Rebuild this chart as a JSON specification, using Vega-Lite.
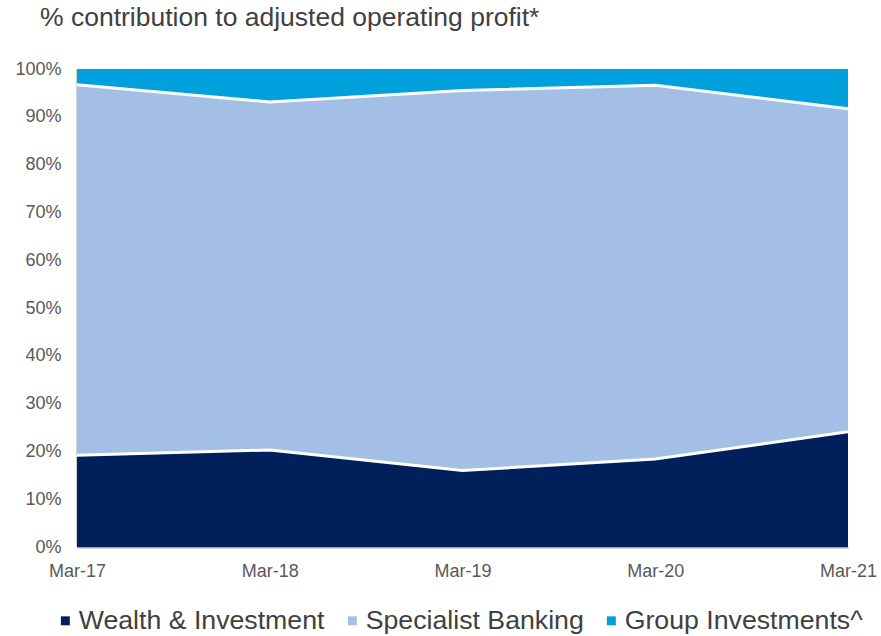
{
  "$schema": "https://vega.github.io/schema/vega-lite/v6.json",
  "autosize": "none",
  "width": 771,
  "height": 478,
  "padding": {"left": 77, "top": 69, "right": 33, "bottom": 89},
  "background": "white",
  "config": {
    "font": "Liberation Sans",
    "view": {"stroke": null}
  },
  "title": {
    "text": "% contribution to adjusted operating profit*",
    "anchor": "start",
    "frame": "group",
    "dx": -37,
    "offset": 29,
    "fontSize": 26.5,
    "fontWeight": "normal",
    "color": "#404040"
  },
  "data": {
    "values": [
      {"date": "Mar-17", "series": "Wealth & Investment", "order": 1, "value": 19.2},
      {"date": "Mar-17", "series": "Specialist Banking", "order": 2, "value": 77.5},
      {"date": "Mar-17", "series": "Group Investments^", "order": 3, "value": 3.3},
      {"date": "Mar-18", "series": "Wealth & Investment", "order": 1, "value": 20.3},
      {"date": "Mar-18", "series": "Specialist Banking", "order": 2, "value": 72.8},
      {"date": "Mar-18", "series": "Group Investments^", "order": 3, "value": 6.9},
      {"date": "Mar-19", "series": "Wealth & Investment", "order": 1, "value": 16.0},
      {"date": "Mar-19", "series": "Specialist Banking", "order": 2, "value": 79.5},
      {"date": "Mar-19", "series": "Group Investments^", "order": 3, "value": 4.5},
      {"date": "Mar-20", "series": "Wealth & Investment", "order": 1, "value": 18.4},
      {"date": "Mar-20", "series": "Specialist Banking", "order": 2, "value": 78.2},
      {"date": "Mar-20", "series": "Group Investments^", "order": 3, "value": 3.4},
      {"date": "Mar-21", "series": "Wealth & Investment", "order": 1, "value": 24.1},
      {"date": "Mar-21", "series": "Specialist Banking", "order": 2, "value": 67.6},
      {"date": "Mar-21", "series": "Group Investments^", "order": 3, "value": 8.3}
    ]
  },
  "layer": [
    {
      "mark": {"type": "area", "opacity": 1},
      "encoding": {
        "x": {
          "field": "date", "type": "ordinal",
          "scale": {"type": "point", "padding": 0},
          "axis": {
            "title": null, "labelAngle": 0, "ticks": false,
            "domainColor": "#a6a6a6", "domainWidth": 2,
            "labelFontSize": 18, "labelColor": "#595959", "labelPadding": 15
          }
        },
        "y": {
          "field": "value", "type": "quantitative", "stack": "zero",
          "scale": {"domain": [0, 100]},
          "axis": {
            "title": null, "values": [0,10,20,30,40,50,60,70,80,90,100],
            "labelExpr": "datum.value + '%'", "grid": false, "ticks": false,
            "domainColor": "#a6a6a6", "domainWidth": 2,
            "labelFontSize": 18, "labelColor": "#595959", "labelPadding": 16
          }
        },
        "color": {
          "field": "series", "type": "nominal",
          "scale": {
            "domain": ["Wealth & Investment", "Specialist Banking", "Group Investments^"],
            "range": ["#00205B", "#A3BFE5", "#00A0DD"]
          },
          "legend": {
            "title": null, "orient": "none", "legendX": -25, "legendY": 538,
            "direction": "horizontal",
            "symbolType": "square", "symbolSize": 80, "labelFontSize": 26.7,
            "labelColor": "#404040", "columnPadding": 14,
            "labelLimit": 400, "symbolStrokeWidth": 0, "labelOffset": 0
          }
        },
        "order": {"field": "order", "type": "quantitative"}
      }
    },
    {
      "transform": [
        {"stack": "value", "groupby": ["date"], "sort": [{"field": "order", "order": "ascending"}], "as": ["y0", "y1"]},
        {"filter": "datum.order < 3"}
      ],
      "mark": {"type": "line", "color": "white", "strokeWidth": 3},
      "encoding": {
        "x": {"field": "date", "type": "ordinal", "scale": {"type": "point", "padding": 0}},
        "y": {"field": "y1", "type": "quantitative"},
        "detail": {"field": "series", "type": "nominal"}
      }
    }
  ]
}
